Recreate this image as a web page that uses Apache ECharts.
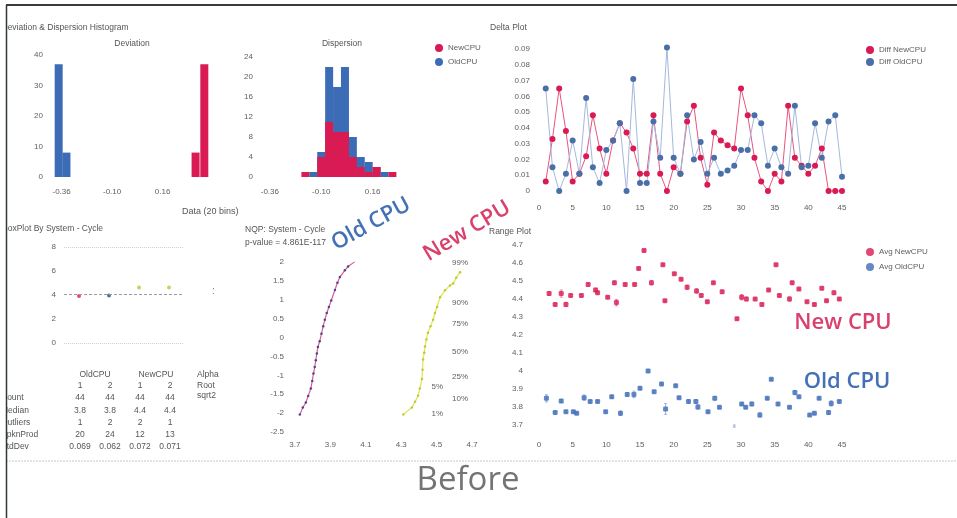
<!DOCTYPE html>
<html><head><meta charset="utf-8">
<script src="https://cdn.jsdelivr.net/npm/echarts@6/dist/echarts.min.js"></script>
<style>html,body{margin:0;padding:0;background:#fff}#c{width:957px;height:518px}</style>
</head><body><div id="c"></div>
<script>
// ---------- DATA ----------
const devOldBins = [-0.375, -0.335];
const devOldCounts = [37, 8];
const devNewBins = [0.33, 0.375];
const devNewCounts = [8, 37];
const devTicks = [-0.36, -0.10, 0.16];

const dispBins = [-0.18,-0.14,-0.10,-0.06,-0.02,0.02,0.06,0.10,0.14,0.18,0.22,0.26];
const dispNew = [1,0,4,11,9,9,4,2,1,2,0,1];
const dispOld = [0,1,5,22,18,22,8,4,3,2,1,0];

const deltaNew = [0.006,0.033,0.065,0.038,0.006,0.011,0.022,0.048,0.027,0.011,0.032,0.043,0.037,0.027,0.011,0.011,0.048,0.011,0,0.015,0.011,0.044,0.054,0.021,0.004,0.037,0.032,0.029,0.027,0.065,0.048,0.021,0.006,0,0.011,0.006,0.054,0.021,0.016,0.011,0.016,0.027,0,0,0];
const deltaOld = [0.065,0.015,0,0.011,0.032,0.011,0.059,0.015,0.005,0.026,0.032,0.043,0,0.071,0.005,0.005,0.044,0.021,0.091,0.021,0.011,0.048,0.020,0.031,0.011,0.021,0.011,0.013,0.016,0.026,0.026,0.048,0.043,0.016,0.027,0.015,0.011,0.054,0.015,0.016,0.043,0.021,0.044,0.048,0.009];

const boxCats = ['OldCPU 1','OldCPU 2','NewCPU 1','NewCPU 2'];
const boxVals = [3.92, 3.95, 4.62, 4.62];
const boxMean = 4.08;

const tableCols = ['1','2','1','2'];
const rowNames = ['Count','Median','Outliers','SpknProd','StdDev'];
const rowValues = [['44','44','44','44'],['3.8','3.8','4.4','4.4'],['1','2','2','1'],['20','24','12','13'],['0.069','0.062','0.072','0.071']];
const alphaLabels = ['Alpha','Root','sqrt2'];

const nqpOld = [[3.728,-2.04],[3.745,-1.85],[3.762,-1.72],[3.775,-1.55],[3.790,-1.35],[3.798,-1.15],[3.805,-0.95],[3.812,-0.78],[3.818,-0.6],[3.824,-0.42],[3.830,-0.25],[3.840,-0.1],[3.850,0.1],[3.860,0.3],[3.869,0.47],[3.880,0.65],[3.892,0.81],[3.905,0.98],[3.926,1.26],[3.940,1.45],[3.954,1.60],[3.982,1.78],[4.000,1.88],[4.039,2.01]];
const nqpNew = [[4.312,-2.04],[4.360,-1.85],[4.378,-1.70],[4.395,-1.54],[4.405,-1.35],[4.417,-1.10],[4.420,-0.85],[4.423,-0.58],[4.430,-0.40],[4.434,-0.24],[4.442,-0.05],[4.451,0.13],[4.465,0.30],[4.480,0.47],[4.490,0.65],[4.502,0.81],[4.519,1.07],[4.547,1.25],[4.575,1.38],[4.593,1.43],[4.610,1.58],[4.632,1.73]];
const nqpXTicks = [3.7,3.9,4.1,4.3,4.5,4.7];
const pctLabels = ['99%','90%','75%','50%','25%','10%'];
const pctZ = [1.99,0.92,0.37,-0.37,-1.05,-1.62];
const pctLabels2 = ['5%','1%'];
const pctZ2 = [-1.31,-2.01];

const rangeNewX = [1.5,2.4,3.3,4.0,4.7,6.3,7.3,8.4,8.7,10.2,11.2,11.5,12.8,14.2,14.8,15.6,16.7,18.4,18.7,20.1,21.1,22.0,23.4,24.1,25.0,25.9,27.2,29.4,30.1,30.8,32.1,33.1,34.1,35.2,35.7,37.2,37.6,38.6,39.8,40.9,42.0,42.7,43.8,44.6];
const rangeNew = [4.43,4.37,4.43,4.37,4.42,4.42,4.48,4.45,4.435,4.41,4.49,4.38,4.48,4.48,4.57,4.67,4.49,4.59,4.39,4.54,4.51,4.465,4.445,4.42,4.385,4.49,4.44,4.29,4.41,4.40,4.40,4.37,4.45,4.59,4.42,4.40,4.49,4.455,4.385,4.37,4.46,4.39,4.435,4.40];
const rangeNewErr = [0.01,0.006,0.02,0.012,0.006,0.006,0.008,0.01,0.008,0.006,0.01,0.018,0.008,0.006,0.006,0.006,0.012,0.006,0.006,0.006,0.006,0.012,0.012,0.006,0.006,0.006,0.008,0.006,0.015,0.01,0.006,0.006,0.006,0.006,0.006,0.012,0.008,0.006,0.006,0.006,0.006,0.006,0.01,0.006];
const rangeOldX = [1.1,2.4,3.3,4.0,5.1,5.6,6.7,7.6,8.7,9.9,10.8,12.1,13.1,14.1,15.0,16.2,17.1,18.2,18.8,20.3,20.8,22.2,23.3,23.6,25.1,26.1,26.8,29.0,30.1,30.7,31.6,32.8,33.9,34.5,35.5,37.2,38.0,38.6,40.2,40.9,41.6,43.0,43.4,44.6];
const rangeOld = [3.848,3.769,3.833,3.774,3.774,3.765,3.852,3.83,3.83,3.774,3.857,3.765,3.87,3.87,3.904,4.00,3.885,3.928,3.789,3.918,3.852,3.83,3.83,3.80,3.774,3.848,3.798,3.694,3.817,3.798,3.817,3.756,3.848,3.954,3.817,3.798,3.88,3.857,3.756,3.765,3.848,3.769,3.82,3.83];
const rangeOldErr = [0.02,0.006,0.008,0.006,0.006,0.006,0.015,0.006,0.006,0.006,0.006,0.012,0.01,0.018,0.006,0.006,0.006,0.006,0.03,0.006,0.006,0.01,0.01,0.012,0.006,0.01,0.006,0.006,0.006,0.006,0.01,0.012,0.006,0.006,0.006,0.006,0.012,0.006,0.006,0.006,0.006,0.01,0.015,0.006];

// ---------- STYLE ----------
const RED = '#d91a53', BLUE = '#3d6cb7', FONT = '"Liberation Sans", Arial, sans-serif';
const LBL = {fontSize: 8, color: '#606060', fontFamily: FONT};
const chart = echarts.init(document.getElementById('c'), null, {renderer: 'canvas'});

function vAxis(grid, o) {
  return Object.assign({type: 'value', gridIndex: grid, axisLine: {show: false}, axisTick: {show: false}, splitLine: {show: false}}, o);
}
function errSeries(name, xs, ys, es, color) {
  return {type: 'custom', name: name, xAxisIndex: 5, yAxisIndex: 7, silent: true, z: 1,
    data: xs.map((x, i) => [x, ys[i], es[i]]),
    renderItem: (p, api) => {
      const x = api.value(0), y = api.value(1), e = api.value(2);
      const t = api.coord([x, y + e]), b = api.coord([x, y - e]);
      return {type: 'group', children: [
        {type: 'line', shape: {x1: t[0], y1: t[1], x2: b[0], y2: b[1]}, style: {stroke: color, lineWidth: 0.8, opacity: 0.6}},
        {type: 'line', shape: {x1: t[0]-1.5, y1: t[1], x2: t[0]+1.5, y2: t[1]}, style: {stroke: color, lineWidth: 0.8, opacity: 0.6}},
        {type: 'line', shape: {x1: b[0]-1.5, y1: b[1], x2: b[0]+1.5, y2: b[1]}, style: {stroke: color, lineWidth: 0.8, opacity: 0.6}}
      ]};
    }};
}
function txt(text, x, y, o) {
  return Object.assign({type: 'text', x: x, y: y, z: 10, style: Object.assign({text: text, fontSize: 8.5, fill: '#555', fontFamily: FONT, textVerticalAlign: 'middle'}, o || {})});
}

const gfx = [];
gfx.push(txt('Deviation & Dispersion Histogram', 1.5, 28));
gfx.push(txt('Deviation', 132, 44, {textAlign: 'center'}));
gfx.push(txt('Dispersion', 342, 44, {textAlign: 'center'}));
gfx.push(txt('Data (20 bins)', 182, 212, {fontSize: 9}));
gfx.push(txt('Delta Plot', 490, 28));
gfx.push(txt('BoxPlot By System - Cycle', 2, 229));
gfx.push(txt(':', 212, 291, {fontSize: 10, fill: '#777'}));
gfx.push(txt('NQP: System - Cycle', 245, 230));
gfx.push(txt('p-value = 4.861E-117', 245, 243));
gfx.push(txt('Range Plot', 489, 232));
// table
gfx.push(txt('OldCPU', 95, 375, {textAlign: 'center'}));
gfx.push(txt('NewCPU', 156, 375, {textAlign: 'center'}));
const colX = [80, 110, 140, 170];
tableCols.forEach((c, i) => gfx.push(txt(c, colX[i], 386, {textAlign: 'center'})));
rowNames.forEach((r, j) => {
  const y = 398 + j * 12.2;
  gfx.push(txt(r, 1, y));
  rowValues[j].forEach((v, i) => gfx.push(txt(v, colX[i], y, {textAlign: 'center'})));
});
alphaLabels.forEach((a, j) => gfx.push(txt(a, 197, 375 + j * 10.5)));
// annotations
gfx.push({type: 'text', x: 371, y: 224, rotation: 29 * Math.PI / 180, z: 20,
  style: {text: 'Old CPU', fontSize: 22, fontWeight: 600, fill: '#4470b5', fontFamily: '"Open Sans", Arial, sans-serif', textAlign: 'center', textVerticalAlign: 'middle'}});
gfx.push({type: 'text', x: 467, y: 231, rotation: 31 * Math.PI / 180, z: 20,
  style: {text: 'New CPU', fontSize: 22, fontWeight: 600, fill: '#d9416c', fontFamily: '"Open Sans", Arial, sans-serif', textAlign: 'center', textVerticalAlign: 'middle'}});
gfx.push({type: 'text', x: 843, y: 323, z: 20,
  style: {text: 'New CPU', fontSize: 22, fontWeight: 600, fill: '#d9416c', fontFamily: '"Open Sans", Arial, sans-serif', textAlign: 'center', textVerticalAlign: 'middle'}});
gfx.push({type: 'text', x: 847, y: 382, z: 20,
  style: {text: 'Old CPU', fontSize: 22, fontWeight: 600, fill: '#4470b5', fontFamily: '"Open Sans", Arial, sans-serif', textAlign: 'center', textVerticalAlign: 'middle'}});
gfx.push({type: 'text', x: 468, y: 481, z: 20,
  style: {text: 'Before', fontSize: 33, fill: '#747474', fontFamily: '"Open Sans", Arial, sans-serif', textAlign: 'center', textVerticalAlign: 'middle'}});
// frame
gfx.push({type: 'line', z: 50, shape: {x1: 0, y1: 461, x2: 957, y2: 461}, style: {stroke: '#c8c8c8', lineWidth: 1.2, lineDash: [2, 1]}});
gfx.push({type: 'rect', z: 100, shape: {x: 0, y: 0, width: 6.5, height: 518}, style: {fill: '#fff'}});
gfx.push({type: 'line', z: 101, shape: {x1: 6.5, y1: 5, x2: 6.5, y2: 518}, style: {stroke: '#2e3a30', lineWidth: 1.5}});
gfx.push({type: 'line', z: 101, shape: {x1: 6, y1: 5, x2: 957, y2: 5}, style: {stroke: '#3a3a3a', lineWidth: 1.8}});

const option = {
  animation: false,
  backgroundColor: '#fff',
  textStyle: {fontFamily: FONT},
  grid: [
    {left: 48, top: 55, width: 167, height: 122},
    {left: 256, top: 57, width: 170, height: 120},
    {left: 539, top: 49, width: 303, height: 142},
    {left: 64, top: 247, width: 120, height: 96},
    {left: 286, top: 262, width: 195, height: 170},
    {left: 539, top: 245, width: 303, height: 180}
  ],
  legend: [
    {data: ['NewCPU', 'OldCPU'], left: 430, top: 39, orient: 'vertical', icon: 'circle', itemWidth: 8, itemHeight: 8, itemGap: 6, textStyle: Object.assign({}, LBL, {fontSize: 8}), selectedMode: false},
    {data: ['Diff NewCPU', 'Diff OldCPU'], left: 861, top: 41, orient: 'vertical', icon: 'circle', itemWidth: 8, itemHeight: 8, itemGap: 4, textStyle: Object.assign({}, LBL, {fontSize: 8}), selectedMode: false},
    {data: ['Avg NewCPU', 'Avg OldCPU'], left: 861, top: 243, orient: 'vertical', icon: 'circle', itemWidth: 8, itemHeight: 8, itemGap: 7, textStyle: Object.assign({}, LBL, {fontSize: 8}), selectedMode: false}
  ],
  xAxis: [
    vAxis(0, {min: -0.43, max: 0.43, axisLabel: Object.assign({}, LBL, {customValues: devTicks, margin: 11, formatter: v => v.toFixed(2)})}),
    vAxis(1, {min: -0.43, max: 0.43, axisLabel: Object.assign({}, LBL, {customValues: devTicks, margin: 11, formatter: v => v.toFixed(2)})}),
    vAxis(2, {min: 0, max: 45, interval: 5, axisLabel: Object.assign({}, LBL, {margin: 13})}),
    {type: 'category', gridIndex: 3, data: boxCats, axisLine: {show: false}, axisTick: {show: false}, axisLabel: {show: false}},
    vAxis(4, {min: 3.65, max: 4.75, axisLabel: Object.assign({}, LBL, {customValues: nqpXTicks, margin: 9, formatter: v => v.toFixed(1)})}),
    vAxis(5, {min: 0, max: 45, interval: 5, axisLabel: Object.assign({}, LBL, {margin: 16})})
  ],
  yAxis: [
    vAxis(0, {min: 0, max: 40, interval: 10, axisLabel: Object.assign({}, LBL, {margin: 5})}),
    vAxis(1, {min: 0, max: 24, interval: 4, axisLabel: Object.assign({}, LBL, {margin: 3})}),
    vAxis(2, {min: 0, max: 0.09, interval: 0.01, axisLabel: Object.assign({}, LBL, {margin: 9})}),
    vAxis(3, {min: 0, max: 8, interval: 2, axisLabel: Object.assign({}, LBL, {margin: 8})}),
    vAxis(4, {min: -2.5, max: 2, interval: 0.5, axisLabel: Object.assign({}, LBL, {margin: 2})}),
    vAxis(4, {min: -2.5, max: 2, position: 'right', axisLabel: Object.assign({}, LBL, {inside: true, margin: 13, customValues: pctZ,
      formatter: v => { let k = 0; pctZ.forEach((z, i) => { if (Math.abs(z - v) < Math.abs(pctZ[k] - v)) k = i; }); return pctLabels[k]; }})}),
    vAxis(4, {min: -2.5, max: 2, position: 'right', axisLabel: Object.assign({}, LBL, {inside: true, margin: 38, customValues: pctZ2,
      formatter: v => { let k = 0; pctZ2.forEach((z, i) => { if (Math.abs(z - v) < Math.abs(pctZ2[k] - v)) k = i; }); return pctLabels2[k]; }})}),
    vAxis(5, {min: 3.7, max: 4.7, interval: 0.1, axisLabel: Object.assign({}, LBL, {margin: 16})})
  ],
  series: [
    {type: 'bar', name: 'OldCPU', xAxisIndex: 0, yAxisIndex: 0, barWidth: 8, barGap: '-100%', color: BLUE,
      data: devOldBins.map((b, i) => [b, devOldCounts[i]])},
    {type: 'bar', name: 'NewCPU', xAxisIndex: 0, yAxisIndex: 0, barWidth: 8, barGap: '-100%', color: RED,
      data: devNewBins.map((b, i) => [b, devNewCounts[i]])},
    {type: 'bar', name: 'OldCPU', xAxisIndex: 1, yAxisIndex: 1, barWidth: 8, barGap: '-100%', color: BLUE,
      data: dispBins.map((b, i) => [b, dispOld[i]])},
    {type: 'bar', name: 'NewCPU', xAxisIndex: 1, yAxisIndex: 1, barWidth: 8, barGap: '-100%', color: RED,
      data: dispBins.map((b, i) => [b, dispNew[i]])},
    {type: 'line', name: 'Diff NewCPU', xAxisIndex: 2, yAxisIndex: 2, clip: false, symbol: 'circle', symbolSize: 6, color: RED,
      lineStyle: {color: '#e8557e', width: 1}, data: deltaNew.map((v, i) => [i + 1, v])},
    {type: 'line', name: 'Diff OldCPU', xAxisIndex: 2, yAxisIndex: 2, clip: false, symbol: 'circle', symbolSize: 6, color: '#4a6fa8',
      lineStyle: {color: '#a4b8dd', width: 1}, data: deltaOld.map((v, i) => [i + 1, v])},
    {type: 'scatter', name: 'box', xAxisIndex: 3, yAxisIndex: 3, symbolSize: 4,
      data: boxVals.map((v, i) => ({value: v, itemStyle: {color: ['#d91a53', '#2d4a7a', '#bcc63a', '#bcc63a'][i]}})),
      markLine: {silent: true, symbol: 'none', label: {show: false},
        data: [
          {yAxis: 8, lineStyle: {color: '#d0d0d0', type: 'dotted', width: 1}},
          {yAxis: 0, lineStyle: {color: '#d0d0d0', type: 'dotted', width: 1}},
          {yAxis: boxMean, lineStyle: {color: '#9a9aa8', type: [3, 2], width: 1}}
        ]}},
    {type: 'line', name: 'NQP Old', xAxisIndex: 4, yAxisIndex: 4, symbol: 'circle', symbolSize: 2.5, color: '#4a4a8a',
      lineStyle: {color: '#e05a95', width: 1.2}, data: nqpOld},
    {type: 'line', name: 'NQP New', xAxisIndex: 4, yAxisIndex: 4, symbol: 'circle', symbolSize: 2.5, color: '#bfcc2a',
      lineStyle: {color: '#dde35a', width: 1.2}, data: nqpNew},
    errSeries('errNew', rangeNewX, rangeNew, rangeNewErr, RED),
    errSeries('errOld', rangeOldX, rangeOld, rangeOldErr, BLUE),
    {type: 'scatter', name: 'Avg NewCPU', xAxisIndex: 5, yAxisIndex: 7, symbol: 'roundRect', symbolSize: 5, color: RED,
      data: rangeNewX.map((x, i) => [x, rangeNew[i]])},
    {type: 'scatter', name: 'Avg OldCPU', xAxisIndex: 5, yAxisIndex: 7, symbol: 'roundRect', symbolSize: 5, color: BLUE,
      data: rangeOldX.map((x, i) => [x, rangeOld[i]])}
  ],
  graphic: {elements: gfx}
};
chart.setOption(option);
</script>
</body></html>
